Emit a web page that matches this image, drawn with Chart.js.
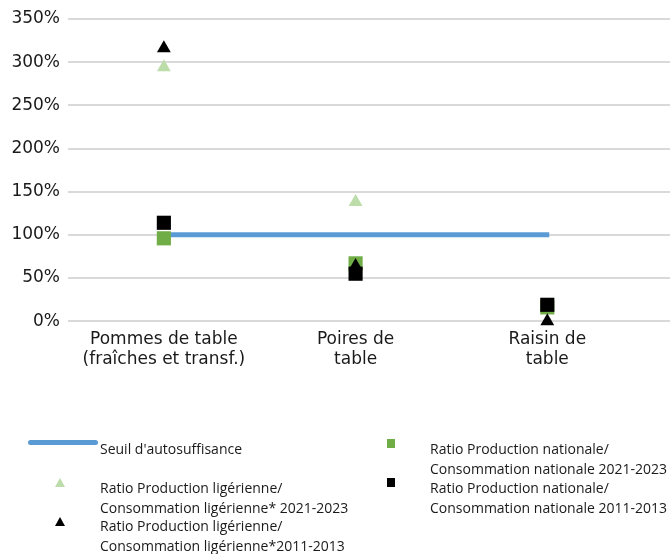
<!DOCTYPE html>
<html>
<head>
<meta charset="utf-8">
<script src="https://cdn.jsdelivr.net/npm/chart.js@4/dist/chart.umd.min.js"></script>
<style>
  body { margin: 0; background: #fff; }
  #wrap { position: relative; width: 672px; height: 554px; }
  #legend { position: absolute; left: 0; top: 0; width: 672px; height: 554px; pointer-events: none;
            font-family: "Open Sans", sans-serif; font-size: 14px; color: #1a1a1a; }
  .item { position: absolute; line-height: 20px; white-space: nowrap; }
  .mark { position: absolute; }
</style>
</head>
<body>
<div id="wrap">
  <canvas id="chart" width="672" height="554"></canvas>
  <div id="legend"></div>
</div>
<script>
const categories = [['Pommes de table', '(fraîches et transf.)'], ['Poires de', 'table'], ['Raisin de', 'table']]
const seuil = [100, 100]
const ligerien2021 = [294, 138, null]
const ligerien2011 = [316, 64, 0]
const national2021 = [96, 67, 16]
const national2011 = [114, 55, 19]
const yTicks = [0, 50, 100, 150, 200, 250, 300, 350]

const toPoints = (arr) => arr.map((v, i) => ({ x: i, y: v })).filter(p => p.y !== null)

const lightGreen = '#bcdcaa'
const green = '#70ad47'
const blue = '#5b9bd5'

const datasets = [
  { label: "Seuil d'autosuffisance", data: [{ x: 0, y: seuil[0] }, { x: 2.01, y: seuil[1] }],
    showLine: true, borderColor: blue, borderWidth: 5, pointRadius: 0, order: 5 },
  { label: 'Ratio Production ligérienne/\nConsommation ligérienne* 2021-2023', data: toPoints(ligerien2021),
    pointStyle: 'triangle', pointRadius: 8, backgroundColor: lightGreen, borderColor: lightGreen, borderWidth: 0, order: 2, clip: false },
  { label: 'Ratio Production ligérienne/\nConsommation ligérienne*2011-2013', data: toPoints(ligerien2011),
    pointStyle: 'triangle', pointRadius: 8, backgroundColor: '#000', borderColor: '#000', borderWidth: 0, order: 1, clip: false },
  { label: 'Ratio Production nationale/\nConsommation nationale 2021-2023', data: toPoints(national2021),
    pointStyle: 'rect', pointRadius: 10, backgroundColor: green, borderColor: green, borderWidth: 0, order: 4, clip: false },
  { label: 'Ratio Production nationale/\nConsommation nationale 2011-2013', data: toPoints(national2011),
    pointStyle: 'rect', pointRadius: 10, backgroundColor: '#000', borderColor: '#000', borderWidth: 0, order: 3, clip: false }
]

new Chart(document.getElementById('chart').getContext('2d'), {
  type: 'scatter',
  data: { datasets },
  options: {
    responsive: false,
    animation: false,
    layout: { autoPadding: false, padding: { top: 19, right: 2, bottom: 184, left: 0 } },
    plugins: { legend: { display: false }, tooltip: { enabled: false } },
    scales: {
      x: {
        type: 'linear', min: -0.5, max: 2.64,
        afterBuildTicks: (axis) => { axis.ticks = categories.map((c, i) => ({ value: i })) },
        afterFit: (axis) => { axis.paddingLeft = 0; axis.paddingRight = 0 },
        ticks: { callback: (v) => categories[v], color: '#1a1a1a', font: { family: 'DejaVu Sans', size: 17 }, padding: 0, maxRotation: 0 },
        grid: { display: false },
        border: { display: false }
      },
      y: {
        min: 0, max: 350,
        afterBuildTicks: (axis) => { axis.ticks = yTicks.map(v => ({ value: v })) },
        afterFit: (axis) => { axis.width = 68; axis.paddingTop = 0; axis.paddingBottom = 0 },
        ticks: { callback: (v) => v + '%', color: '#1a1a1a', font: { family: 'DejaVu Sans', size: 17 }, padding: 8 },
        grid: { color: '#d9d9d9', lineWidth: 2, drawTicks: false },
        border: { display: false }
      }
    }
  }
})

// custom two-column legend
const legendLayout = [
  { ds: 0, mx: 28, my: 443, tx: 100, ty: 439 },
  { ds: 1, mx: 60, my: 483, tx: 100, ty: 478 },
  { ds: 2, mx: 60, my: 522, tx: 100, ty: 516 },
  { ds: 3, mx: 391, my: 443, tx: 430, ty: 439 },
  { ds: 4, mx: 391, my: 482, tx: 430, ty: 478 }
]
const legend = document.getElementById('legend')
legendLayout.forEach(l => {
  const d = datasets[l.ds]
  const m = document.createElement('div')
  m.className = 'mark'
  if (d.showLine) {
    Object.assign(m.style, { left: l.mx + 'px', top: (l.my - 3) + 'px', width: '70px', height: '5px', background: d.borderColor, borderRadius: '3px' })
  } else if (d.pointStyle === 'triangle') {
    Object.assign(m.style, { left: (l.mx - 5) + 'px', top: (l.my - 5) + 'px', width: 0, height: 0,
      borderLeft: '5px solid transparent', borderRight: '5px solid transparent', borderBottom: '9px solid ' + d.backgroundColor })
  } else {
    Object.assign(m.style, { left: (l.mx - 4) + 'px', top: (l.my - 4) + 'px', width: '8px', height: '9px', background: d.backgroundColor })
  }
  legend.appendChild(m)
  const t = document.createElement('div')
  t.className = 'item'
  t.style.left = l.tx + 'px'
  t.style.top = l.ty + 'px'
  t.innerHTML = d.label.split('\n').join('<br>')
  legend.appendChild(t)
})
</script>
</body>
</html>
